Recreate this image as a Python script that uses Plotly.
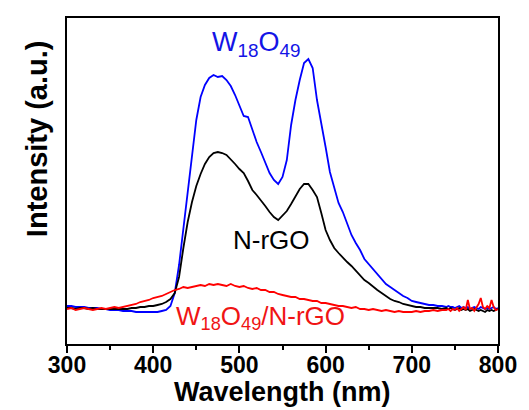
import plotly.graph_objects as go

# sampling grid (nm)
wl_main = list(range(300, 740, 5))          # 300 ... 735
wl_tail = [740 + 2.5 * i for i in range(25)]  # 740 ... 800
wavelength = wl_main + wl_tail

# Intensity (a.u.)
w18o49 = [
    38, 38, 37, 37, 37, 36, 36, 36, 35, 35,
    34, 34, 34, 33, 33, 33, 32, 32, 32, 32,
    32, 32, 33, 34, 38, 51, 79, 116, 156, 192,
    224, 247, 259, 266, 269, 267, 268, 264, 258, 249,
    238, 228, 227, 214, 202, 192, 181, 171, 164, 160,
    167, 184, 219, 244, 264, 281, 285, 276, 244, 222,
    197, 172, 157, 141, 132, 121, 109, 101, 94, 85,
    80, 75, 69, 64, 60, 57, 54, 51, 48, 46,
    43, 42, 41, 40, 39, 39, 38, 38,
    37, 38, 37, 37, 36, 37, 38, 36, 37, 36, 37, 35, 36,
    37, 36, 35, 37, 36, 35, 36, 35, 36, 37, 35, 36,
]
n_rgo = [
    36, 36, 35, 36, 36, 35, 36, 35, 35, 35,
    35, 35, 35, 35, 35, 36, 36, 37, 37, 38,
    38, 39, 40, 42, 45, 51, 67, 96, 122, 142,
    158, 170, 180, 187, 191, 192, 191, 189, 185, 180,
    175, 171, 163, 154, 149, 144, 138, 132, 127, 124,
    128, 133, 140, 148, 155, 160, 160, 154, 147, 131,
    114, 104, 96, 91, 86, 82, 78, 73, 68, 64,
    61, 57, 54, 51, 48, 45, 43, 42, 40, 39,
    38, 37, 37, 36, 36, 36, 36, 35,
    36, 35, 36, 35, 34, 35, 36, 34, 35, 34, 35, 33, 34,
    35, 34, 33, 34, 33, 32, 34, 33, 34, 33, 34, 35,
]
w18o49_nrgo = [
    35, 36, 34, 35, 36, 35, 34, 35, 36, 35,
    36, 37, 36, 37, 38, 39, 40, 42, 43, 44,
    46, 47, 48, 50, 52, 54, 55, 57, 56, 57,
    58, 59, 58, 60, 59, 60, 59, 58, 60, 58,
    57, 58, 56, 55, 56, 54, 54, 52, 52, 50,
    49, 48, 47, 47, 45, 45, 44, 43, 43, 41,
    41, 40, 39, 38, 38, 37, 36, 37, 35, 35,
    34, 35, 34, 33, 34, 33, 32, 33, 32, 32,
    32, 33, 32, 33, 33, 34, 33, 34,
    34, 35, 33, 35, 34, 36, 33, 35, 37, 34, 44, 35, 36,
    33, 36, 40, 46, 37, 35, 38, 36, 44, 37, 34, 35,
]

x_ticks = [300, 400, 500, 600, 700, 800]

series = [
    ("W18O49", w18o49, "#0000ff"),
    ("N-rGO", n_rgo, "#000000"),
    ("W18O49/N-rGO", w18o49_nrgo, "#ff0000"),
]

fig = go.Figure()
for name, vals, col in series:
    fig.add_trace(go.Scatter(x=wavelength, y=vals, mode="lines", name=name,
                             line=dict(color=col, width=1.8)))

FONT = "Liberation Sans, Arial, sans-serif"

fig.update_layout(
    template="simple_white",
    width=529, height=410,
    margin=dict(l=67, r=29, t=18, b=66),
    plot_bgcolor="white", paper_bgcolor="white",
    showlegend=False,
    font=dict(family=FONT, color="black"),
)
fig.update_xaxes(
    range=[300, 800], tickvals=x_ticks, ticktext=[str(v) for v in x_ticks],
    showline=True, linecolor="black", linewidth=2, mirror=True,
    ticks="outside", ticklen=7, tickwidth=2, tickcolor="black",
    minor=dict(tickvals=[350, 450, 550, 650, 750], ticks="outside",
               ticklen=4, tickwidth=2, tickcolor="black", showgrid=False),
    ticklabelstandoff=-8,
    showgrid=False, zeroline=False,
    tickfont=dict(family=FONT, size=23, color="black", weight="bold"),
)
fig.update_yaxes(
    range=[0, 326], showticklabels=False, ticks="",
    showline=True, linecolor="black", linewidth=2, mirror=True,
    showgrid=False, zeroline=False,
)

plot_l, plot_r, plot_t, plot_b = 67, 500, 18, 344


def px_to_paper(px, py):
    return (px - plot_l) / (plot_r - plot_l), (plot_b - py) / (plot_b - plot_t)


ann = [
    dict(x=257, y=44, text="W<sub>18</sub>O<sub>49</sub>", color="#1414e6", size=27),
    dict(x=272, y=240, text="N-rGO", color="#000000", size=26),
    dict(x=261, y=317, text="W<sub>18</sub>O<sub>49</sub>/N-rGO", color="#f01414", size=26),
]
for a in ann:
    ax, ay = px_to_paper(a["x"], a["y"])
    fig.add_annotation(x=ax, y=ay, xref="paper", yref="paper", text=a["text"],
                       showarrow=False, xanchor="center", yanchor="middle",
                       font=dict(family=FONT, size=a["size"], color=a["color"]))

ax, ay = px_to_paper(283, 392)
fig.add_annotation(x=ax, y=ay, xref="paper", yref="paper", text="<b>Wavelength (nm)</b>",
                   showarrow=False, xanchor="center", yanchor="middle",
                   font=dict(family=FONT, size=27, color="black"))
ax, ay = px_to_paper(37, 139)
fig.add_annotation(x=ax, y=ay, xref="paper", yref="paper", text="<b>Intensity (a.u.)</b>",
                   showarrow=False, textangle=-90, xanchor="center", yanchor="middle",
                   font=dict(family=FONT, size=29, color="black"))

fig.write_html("out.html")
